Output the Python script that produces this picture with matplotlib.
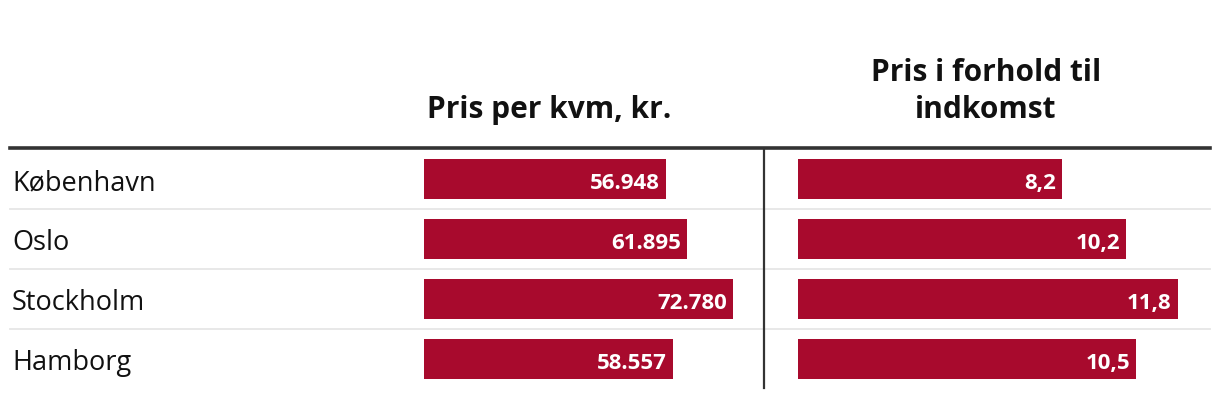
import matplotlib
matplotlib.use("Agg")
import matplotlib.pyplot as plt
from matplotlib.lines import Line2D

plt.rcParams['font.family'] = ['Open Sans', 'DejaVu Sans']

cities = ["København", "Oslo", "Stockholm", "Hamborg"]
price_per_sqm = [56948, 61895, 72780, 58557]
price_to_income = [8.2, 10.2, 11.8, 10.5]
header1 = "Pris per kvm, kr."
header2 = "Pris i forhold til\nindkomst"

W, H = 1220, 398
DPI = 100
fig = plt.figure(figsize=(W / DPI, H / DPI), dpi=DPI)
BAR = "#a80a2d"

def fx(x):
    return x / W

def fy(y):
    return 1 - y / H

top, bottom = 149, 389
n = len(cities)

def make_ax(x0, x1, xmax):
    ax = fig.add_axes([fx(x0), fy(bottom), fx(x1) - fx(x0), (bottom - top) / H])
    ax.set_xlim(0, xmax)
    ax.set_ylim(n - 0.5, -0.5)
    ax.axis('off')
    return ax

ax1 = make_ax(424, 764, 80000)
ax2 = make_ax(798, 1210, 12.8)

ys = list(range(n))
ax1.barh(ys, price_per_sqm, height=40 / 60, color=BAR)
ax2.barh(ys, price_to_income, height=40 / 60, color=BAR)

def fmt1(v):
    return f"{v:,}".replace(",", ".")

def fmt2(v):
    return f"{v:.1f}".replace(".", ",")

from matplotlib.transforms import offset_copy
for ax, vals, f in ((ax1, price_per_sqm, fmt1), (ax2, price_to_income, fmt2)):
    tr = offset_copy(ax.transData, fig=fig, x=-6 * 72 / DPI, y=-10 * 72 / DPI, units='points')
    for y, v in zip(ys, vals):
        ax.text(v, y, f(v), transform=tr, ha='right', va='baseline',
                color='white', fontsize=16, fontweight='bold')

# overlay for lines and labels
ov = fig.add_axes([0, 0, 1, 1])
ov.set_xlim(0, W)
ov.set_ylim(H, 0)
ov.axis('off')
ov.set_zorder(-1)

row_h = (bottom - top) / n
for i in range(1, n):
    yy = top + i * row_h
    ov.add_line(Line2D([10, 1210], [yy, yy], color="#e6e6e6", lw=1.3))
ov.add_line(Line2D([764, 764], [top, bottom - 1], color="#333333", lw=1.6))
ov.add_line(Line2D([10, 1210], [148, 148], color="#333333", lw=2.6))

for i, c in enumerate(cities):
    yc = top + (i + 0.5) * row_h
    ov.text(12, yc + 11, c, ha='left', va='baseline', fontsize=19.5, color='#111111')

ov.text(549, 118, header1, ha='center', va='baseline', fontsize=21.5,
        fontweight='bold', color='#111111')
ov.text(986, 118, header2, ha='center', va='baseline', fontsize=21.5,
        fontweight='bold', color='#111111', linespacing=1.3, multialignment='center')

fig.savefig("out.png", dpi=DPI)
